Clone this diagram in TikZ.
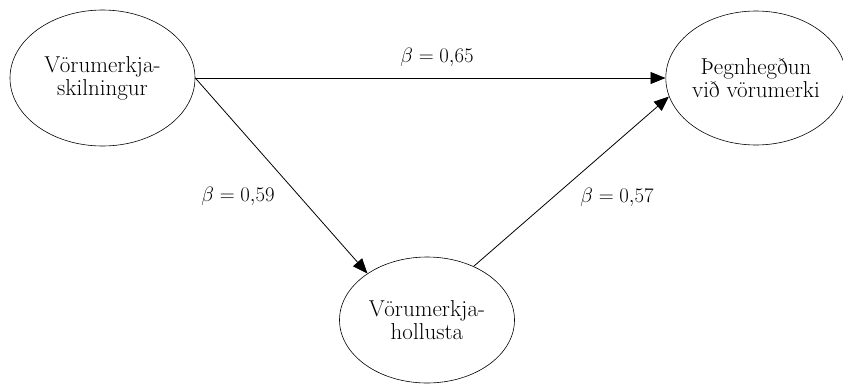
\documentclass[tikz,border=0pt]{standalone}
\usetikzlibrary{arrows.meta,shapes.geometric}
\begin{document}
\begin{tikzpicture}[x=1pt,y=-1pt,
  construct/.style={draw,ellipse,inner sep=0pt,line width=0.6pt,align=center,
    font=\fontsize{23}{23}\selectfont},
  path/.style={draw,line width=0.8pt,-{Triangle[length=15pt,width=12pt]}},
  coef/.style={font=\fontsize{20.5}{22}\selectfont}]
\useasboundingbox (0,0) rectangle (843,383);
\node[construct,minimum width=185pt,minimum height=136pt] (L) at (102.5,78) {V\"orumerkja-\\skilningur};
\node[construct,minimum width=172pt,minimum height=134pt] (R) at (756,78) {\TH egnheg\dh un\\vi\dh\ v\"orumerki};
\node[construct,minimum width=175pt,minimum height=126pt] (B) at (427,320) {V\"orumerkja-\\hollusta};
\draw[path] (L.east) -- (R.west);
\draw[path] (L.east) -- (B.142);
\draw[path] (B.49) -- (R.192);
\node[coef] (c1) at (437,57) {$\beta = 0{,}65$};
\node[coef] (c2) at (238,196) {$\beta = 0{,}59$};
\node[coef] (c3) at (617,197) {$\beta = 0{,}57$};
\end{tikzpicture}
\end{document}
